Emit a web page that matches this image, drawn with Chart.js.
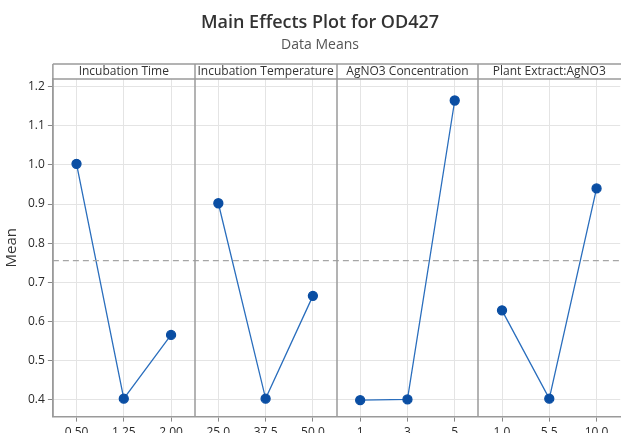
<!DOCTYPE html>
<html><head><meta charset="utf-8">
<script src="https://cdn.jsdelivr.net/npm/chart.js@4"></script>
<style>html,body{margin:0;padding:0;overflow:hidden;background:#fff;width:621px;height:433px}#wrap{width:626px;height:444px;position:relative}</style>
</head><body><div id="wrap"><canvas id="c"></canvas></div>
<script>
const titleText = 'Main Effects Plot for OD427';
const subtitleText = 'Data Means';
const factors = ['Incubation Time','Incubation Temperature','AgNO3 Concentration','Plant Extract:AgNO3'];
const levelsTime = ['0.50','1.25','2.00'];
const levelsTemp = ['25.0','37.5','50.0'];
const levelsConc = ['1','3','5'];
const levelsRatio = ['1.0','5.5','10.0'];
const meansTime = [1.003, 0.402, 0.565];
const meansTemp = [0.902, 0.402, 0.665];
const meansConc = [0.398, 0.400, 1.165];
const meansRatio = [0.628, 0.402, 0.940];
const overallMean = 0.755;
const yTicks = [0.4,0.5,0.6,0.7,0.8,0.9,1.0,1.1,1.2];

const levelSets = [levelsTime, levelsTemp, levelsConc, levelsRatio];
const meanSets = [meansTime, meansTemp, meansConc, meansRatio];
const xLabels = levelSets.flat();
const nLev = 3;
const xMax = factors.length*nLev - 0.5;
const FONT = '"Open Sans", sans-serif';

const datasets = meanSets.map((m,fi)=>({
  data: m.map((v,i)=>({x: fi*nLev+i, y: v})),
  borderColor:'#2a6ebd', borderWidth:1.3,
  pointBackgroundColor:'#0a4ea3', pointBorderColor:'#0a4ea3',
  pointRadius:4.5, pointHoverRadius:4.5, showLine:true, tension:0
}));
datasets.unshift({
  data:[{x:-0.5,y:overallMean},{x:xMax,y:overallMean}],
  borderColor:'#a6a6a6', borderWidth:1.2, borderDash:[6,4],
  pointRadius:0, showLine:true
});

const panelPlugin = {
  id:'panels',
  afterDraw(chart){
    const {ctx, chartArea:a, scales:{x}} = chart;
    const headTop = a.top - 15;
    ctx.save();
    ctx.fillStyle = '#333'; ctx.textAlign='center'; ctx.textBaseline='alphabetic';
    ctx.font = '600 18px ' + FONT;
    ctx.fillText(titleText, 320, 28);
    ctx.fillStyle = '#555'; ctx.font = '14px ' + FONT;
    ctx.fillText(subtitleText, 320, 49);
    ctx.strokeStyle = '#9a9a9a'; ctx.lineWidth = 1.5;
    ctx.beginPath();
    ctx.moveTo(a.left, headTop); ctx.lineTo(a.right+2, headTop);
    ctx.moveTo(a.left, a.top); ctx.lineTo(a.right+2, a.top);
    ctx.moveTo(a.left, headTop); ctx.lineTo(a.left, a.bottom);
    for(let f=1; f<factors.length; f++){
      const px = Math.round(x.getPixelForValue(f*nLev-0.5));
      ctx.moveTo(px, headTop); ctx.lineTo(px, a.bottom);
    }
    ctx.stroke();
    ctx.fillStyle = '#333'; ctx.font = '12px ' + FONT;
    ctx.textBaseline='middle';
    factors.forEach((name,f)=>{
      const l = x.getPixelForValue(f*nLev-0.5), r = x.getPixelForValue(f*nLev+nLev-0.5);
      ctx.fillText(name, (l+r)/2, headTop+8);
    });
    ctx.restore();
  }
};

new Chart(document.getElementById('c'), {
  type:'scatter',
  data:{datasets},
  options:{
    responsive:true, maintainAspectRatio:false, animation:false,
    layout:{padding:{left:3,right:2,top:79,bottom:0}},
    plugins:{ legend:{display:false}, tooltip:{enabled:false} },
    scales:{
      x:{type:'linear', min:-0.5, max:xMax,
        afterBuildTicks(s){ s.ticks = xLabels.map((_,i)=>({value:i})); },
        ticks:{callback:(v)=>xLabels[v], color:'#2a2a2a', font:{family:FONT, size:12}, padding:4, maxRotation:0, autoSkip:false},
        grid:{color:'#e4e4e4', tickColor:'#888', tickLength:5},
        border:{color:'#9a9a9a', width:1.5}
      },
      y:{type:'linear', min:0.356, max:1.22,
        afterBuildTicks(s){ s.ticks = yTicks.map(v=>({value:v})); },
        ticks:{callback:(v)=>v.toFixed(1), color:'#2a2a2a', font:{family:FONT, size:12}, padding:3},
        grid:{color:'#e4e4e4', tickColor:'#888', tickLength:5},
        border:{color:'#9a9a9a', width:1.5},
        title:{display:true, text:'Mean', color:'#333', font:{family:FONT, size:15}, padding:{top:0,bottom:4}}
      }
    }
  },
  plugins:[panelPlugin]
});
</script></body></html>
